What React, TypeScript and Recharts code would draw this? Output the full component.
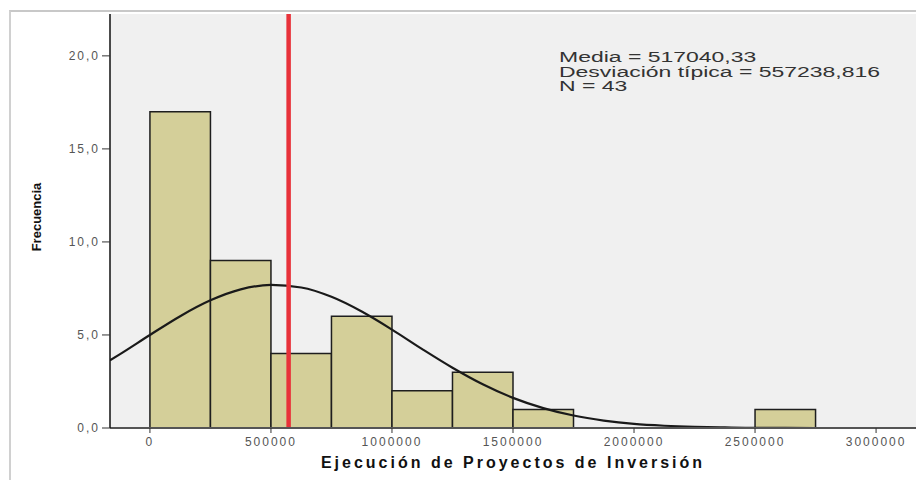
import React from 'react';
import { ComposedChart, Line, XAxis, YAxis, ReferenceArea, ReferenceLine, Label } from 'recharts';

// histogram bins (width 250000) and their frequencies
const binStarts = [0, 250000, 500000, 750000, 1000000, 1250000, 1500000, 1750000, 2000000, 2250000, 2500000];
const binCounts = [17, 9, 4, 6, 2, 3, 1, 0, 0, 0, 1];
const BIN_WIDTH = 250000;

// normal curve
const curveX = [
  -165000, -125000, 0, 125000, 250000, 375000, 500000, 625000, 750000, 875000, 1000000,
  1125000, 1250000, 1375000, 1500000, 1625000, 1750000, 1875000, 2000000, 2125000, 2250000,
  2375000, 2500000, 2625000, 2750000, 2875000, 3000000, 3165000,
];
const curveY = [
  3.64, 3.96, 5.0, 6.01, 6.86, 7.45, 7.69, 7.55, 7.05, 6.26, 5.29,
  4.24, 3.24, 2.35, 1.62, 1.07, 0.67, 0.4, 0.22, 0.12, 0.06,
  0.03, 0.01, 0.01, 0, 0, 0, 0,
];

const xTicks = [0, 500000, 1000000, 1500000, 2000000, 2500000, 3000000];
const yTicks = [0, 5, 10, 15, 20];
const markerX = 573000;

const statLines = ['Media = 517040,33', 'Desviación típica = 557238,816', 'N = 43'];

const curveData = curveX.map((x, i) => ({ x, y: curveY[i] }));

const FONT = '"Liberation Sans", Arial, sans-serif';
const tickStyle = { fill: '#555', fontSize: 12, fontFamily: FONT, letterSpacing: 2 };

const XTitle = ({ viewBox }: any) => (
  <text
    x={viewBox.x + viewBox.width / 2}
    y={viewBox.y + 40}
    textAnchor="middle"
    fontFamily={FONT}
    fontWeight="bold"
    fontSize={16}
    letterSpacing={3}
    fill="#111"
  >
    Ejecución de Proyectos de Inversión
  </text>
);

const YTitle = ({ viewBox }: any) => {
  const x = 33;
  const y = viewBox.y + viewBox.height / 2 - 4;
  return (
    <text
      x={x}
      y={y}
      transform={`rotate(-90, ${x}, ${y})`}
      textAnchor="middle"
      fontFamily={FONT}
      fontWeight="bold"
      fontSize={13}
      fill="#111"
    >
      Frecuencia
    </text>
  );
};

const App = () => {
  return (
    <div style={{ position: 'relative', width: 916, height: 472, background: '#fff' }}>
      <div
        style={{
          position: 'absolute',
          left: 1,
          top: 2,
          width: 940,
          height: 500,
          borderTop: '2px solid #c8c8c8',
          borderLeft: '2px solid #d0d0d0',
        }}
      />
      <div style={{ position: 'absolute', left: 0, top: 0 }}>
        <ComposedChart
          width={916}
          height={472}
          data={curveData}
          margin={{ top: 6, right: 8, bottom: 0, left: 0 }}
        >
          <rect x={102} y={6} width={806} height={414} fill="#f0f0f0" />
          <XAxis
            dataKey="x"
            type="number"
            domain={[-165000, 3165000]}
            ticks={xTicks}
            allowDataOverflow
            height={52}
            tickSize={5}
            tickMargin={4}
            tick={tickStyle}
            axisLine={{ stroke: '#555', strokeWidth: 2 }}
            tickLine={{ stroke: '#333' }}
            label={<Label content={XTitle} />}
          />
          <XAxis
            xAxisId="top"
            orientation="top"
            dataKey="x"
            type="number"
            domain={[-165000, 3165000]}
            height={0}
            tick={false}
            tickLine={false}
            axisLine={{ stroke: '#666', strokeWidth: 2 }}
          />
          <YAxis
            type="number"
            domain={[0, 22.25]}
            ticks={yTicks}
            allowDataOverflow
            width={102}
            tickSize={8}
            tickMargin={2}
            tick={tickStyle}
            tickFormatter={(v: number) => v.toFixed(1).replace('.', ',')}
            axisLine={{ stroke: '#111', strokeWidth: 1.5 }}
            tickLine={{ stroke: '#333' }}
            label={<Label content={YTitle} />}
          />
          <YAxis
            yAxisId="right"
            orientation="right"
            width={0}
            domain={[0, 22.25]}
            tick={false}
            tickLine={false}
            axisLine={{ stroke: '#555', strokeWidth: 2 }}
          />
          {binStarts.map((start, i) =>
            binCounts[i] > 0 ? (
              <ReferenceArea
                key={start}
                x1={start}
                x2={start + BIN_WIDTH}
                y1={0}
                y2={binCounts[i]}
                fill="#d4cf99"
                fillOpacity={1}
                stroke="#1e1e1e"
                strokeWidth={1.5}
              />
            ) : null
          )}
          <Line
            type="monotone"
            dataKey="y"
            stroke="#1a1a1a"
            strokeWidth={2.2}
            dot={false}
            activeDot={false}
            isAnimationActive={false}
          />
          <ReferenceLine x={markerX} stroke="#e8323a" strokeWidth={4.5} />
        </ComposedChart>
      </div>
      <div
        style={{
          position: 'absolute',
          left: 551,
          top: 42,
          fontFamily: FONT,
          fontSize: 14,
          lineHeight: '14.5px',
          color: '#333',
          transform: 'scaleX(1.64)',
          transformOrigin: 'left top',
          whiteSpace: 'nowrap',
        }}
      >
        {statLines.map((s) => (
          <div key={s}>{s}</div>
        ))}
      </div>
    </div>
  );
};

export default App;
